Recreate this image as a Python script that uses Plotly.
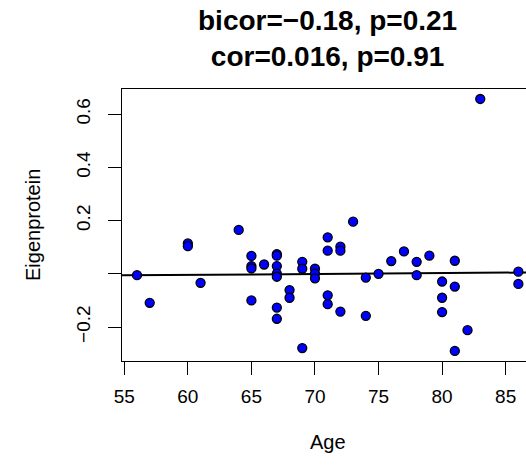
import numpy as np
import plotly.graph_objects as go

# Data
age = [56, 57, 60, 60, 61, 64,
       65, 65, 65, 65, 66,
       67, 67, 67, 67, 67, 67, 67,
       68, 68, 69, 69, 69,
       70, 70, 70, 71, 71, 71, 71,
       72, 72, 72, 73, 74, 74, 75, 76, 77, 78, 78, 79,
       80, 80, 80, 81, 81, 81, 82, 83, 86, 86]
eigen = [-0.005, -0.109, 0.114, 0.104, -0.034, 0.165,
         0.067, 0.029, 0.020, -0.100, 0.035,
         0.074, 0.068, 0.029, 0.001, -0.011, -0.127, -0.169,
         -0.061, -0.090, 0.045, 0.019, -0.279,
         0.019, 0.001, -0.017, 0.137, 0.087, -0.081, -0.114,
         0.102, 0.087, -0.142, 0.196, -0.014, -0.158, 0.000, 0.048, 0.084, 0.045, -0.005, 0.068,
         -0.029, -0.090, -0.144, 0.049, -0.048, -0.290, -0.212, 0.657, 0.008, -0.038]

title_lines = ["bicor=\u22120.18, p=0.21", "cor=0.016, p=0.91"]
x_ticks = [55, 60, 65, 70, 75, 80, 85]
y_ticks = [-0.2, 0.0, 0.2, 0.4, 0.6]
y_ticktext = ["\u22120.2", "", "0.2", "0.4", "0.6"]
XRANGE = [54.82, 86.60]
YRANGE = [-0.3277, 0.6945]

slope, intercept = np.polyfit(age, eigen, 1)
fit_x = np.array(XRANGE)
fit_y = intercept + slope * fit_x

FONT = "Liberation Sans, Arial, sans-serif"

fig = go.Figure()
fig.add_trace(go.Scatter(x=fit_x, y=fit_y, mode="lines",
                         line=dict(color="black", width=2), hoverinfo="skip"))
fig.add_trace(go.Scatter(x=age, y=eigen, mode="markers",
                         marker=dict(size=9, color="#0000FF",
                                     line=dict(color="black", width=1.3))))

fig.update_layout(
    width=526, height=465,
    paper_bgcolor="white", plot_bgcolor="white",
    showlegend=False,
    margin=dict(l=122, r=0, t=89, b=104),
    font=dict(family=FONT, color="black"),
)
fig.update_xaxes(range=XRANGE, tickvals=x_ticks, ticks="outside", ticklen=13,
                 tickwidth=1.3, tickcolor="black", showline=True, mirror=True,
                 linecolor="black", linewidth=1.3, showgrid=False, zeroline=False,
                 tickfont=dict(size=19), ticklabelstandoff=5, automargin=False)
fig.update_yaxes(range=YRANGE, tickvals=y_ticks, ticktext=y_ticktext, ticks="outside",
                 ticklen=13, tickwidth=1.3, tickcolor="black", showline=True,
                 mirror=False, linecolor="black", linewidth=1.3, showgrid=False,
                 zeroline=False, tickangle=-90, tickfont=dict(size=19),
                 ticklabelstandoff=10, automargin=False)

plot_l, plot_r = 122, 526
plot_h = 465 - 89 - 104
def px_to_paper(px):
    return (px - plot_l) / (plot_r - plot_l)

fig.add_annotation(text="<b>" + title_lines[0] + "<br>" + title_lines[1] + "</b>",
                   xref="paper", yref="paper",
                   x=px_to_paper(327.6), y=1 + (89 - 38) / plot_h, showarrow=False,
                   font=dict(size=28), xanchor="center", yanchor="middle", align="center")
fig.add_annotation(text="Age", xref="paper", yref="paper",
                   x=px_to_paper(327.6), y=-(441.7 - 361) / plot_h, showarrow=False,
                   font=dict(size=20), xanchor="center", yanchor="middle")
fig.add_annotation(text="Eigenprotein", xref="paper", yref="paper",
                   x=px_to_paper(33), y=0.5, showarrow=False, textangle=-90,
                   font=dict(size=20), xanchor="center", yanchor="middle")

fig.write_html("out.html", post_script="document.body.style.margin='0';",
               config={"displayModeBar": False})
